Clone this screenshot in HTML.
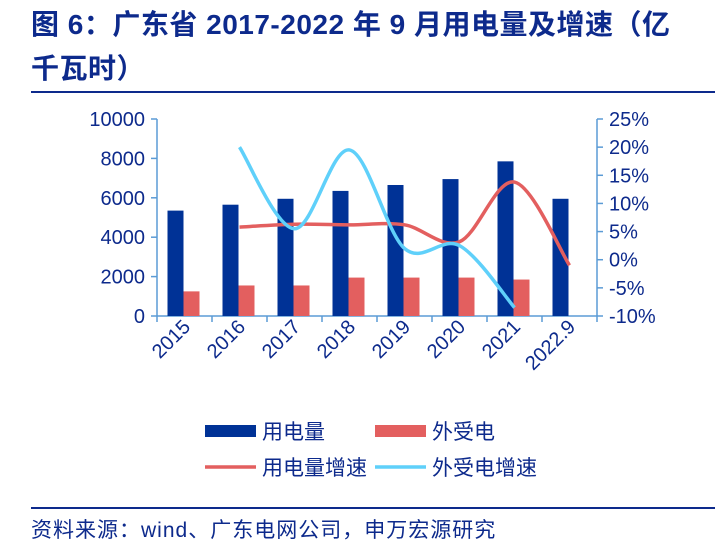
<!DOCTYPE html>
<html><head><meta charset="utf-8"><style>
body{margin:0;width:721px;height:546px;background:#fff;overflow:hidden;font-family:"Liberation Sans","Noto Sans CJK SC",sans-serif}
.t{position:absolute;left:31px;font-weight:bold;font-size:28px;letter-spacing:0.5px;color:#0d2a8c;line-height:44px;font-family:"Liberation Sans","Noto Sans CJK SC",sans-serif;white-space:nowrap}
</style></head><body>
<div class="t" style="top:3px;width:690px">图 6：广东省 2017-2022 年 9 月用电量及增速（亿<br>千瓦时）</div>
<div style="position:absolute;left:31px;top:91px;width:684px;height:2px;background:#0d2a8c"></div>
<svg id="c" width="721" height="546" style="position:absolute;left:0;top:0"></svg>
<div style="position:absolute;left:31px;top:507px;width:684px;height:2px;background:#0d2a8c"></div>
<div style="position:absolute;left:31px;top:514px;font-size:21px;letter-spacing:1px;color:#0d2a8c;white-space:nowrap">资料来源：wind、广东电网公司，申万宏源研究</div>
<script>
const categories=["2015","2016","2017","2018","2019","2020","2021","2022.9"];
const usage=[5350,5650,5950,6350,6650,6950,7850,5950];
const imported=[1250,1550,1550,1950,1950,1950,1850,null];
const usageGrowth=[null,5.8,6.3,6.2,6.2,3.2,13.8,-1.0];
const importGrowth=[null,20,5.5,19.5,2.0,2.5,-8.5,null];
const leftTicks=[0,2000,4000,6000,8000,10000];
const rightTicks=[-10,-5,0,5,10,15,20,25];
const NS="http://www.w3.org/2000/svg",svg=document.getElementById('c');
const X0=157,X1=597,Y0=316,Y1=119,cw=(X1-X0)/categories.length;
const yL=v=>Y0-(v/10000)*(Y0-Y1);
const yR=v=>Y0-((v+10)/35)*(Y0-Y1);
const xc=i=>X0+cw*(i+0.5);
function el(t,a,p){const e=document.createElementNS(NS,t);for(const k in a)e.setAttribute(k,a[k]);(p||svg).appendChild(e);return e;}
const ax='#5b9bd5',tc='#0d2a8c';
let a=el('line',{x1:X0,y1:Y1,x2:X0,y2:Y0,stroke:ax,'stroke-width':1.5});

a=el('line',{x1:X1,y1:Y1,x2:X1,y2:Y0,stroke:ax,'stroke-width':1.5});

a=el('line',{x1:X0,y1:Y0,x2:X1,y2:Y0,stroke:ax,'stroke-width':1.5});

leftTicks.forEach(v=>{const y=yL(v);el('line',{x1:X0-6,y1:y,x2:X0,y2:y,stroke:ax,'stroke-width':1.5});
const t=el('text',{x:X0-12,y:y+7,'text-anchor':'end','font-size':20,fill:tc});t.textContent=v;
});
rightTicks.forEach(v=>{const y=yR(v);el('line',{x1:X1,y1:y,x2:X1+6,y2:y,stroke:ax,'stroke-width':1.5});
const t=el('text',{x:X1+12,y:y+7,'font-size':20,fill:tc});t.textContent=v+'%';
});
for(let i=0;i<=categories.length;i++){const x=X0+cw*i;el('line',{x1:x,y1:Y0,x2:x,y2:Y0+6,stroke:ax,'stroke-width':1.5});}
categories.forEach((c,i)=>{const x=xc(i)+7,y=Y0+12;
const t=el('text',{x:x,y:y,'text-anchor':'end','font-size':20,fill:tc,transform:`rotate(-45 ${x} ${y})`});t.textContent=c;

const b=el('rect',{x:xc(i)-17,y:yL(usage[i]),width:16,height:Y0-yL(usage[i]),fill:'#003296'});

if(imported[i]!=null){const r=el('rect',{x:xc(i)-1,y:yL(imported[i]),width:16,height:Y0-yL(imported[i]),fill:'#e35f5f'});
}});
function spline(arr,f){const p=[];arr.forEach((v,i)=>{if(v!=null)p.push([xc(i),f(v)]);});
let d=`M${p[0][0]},${p[0][1]}`;for(let i=0;i<p.length-1;i++){const p0=p[i-1]||p[i],p1=p[i],p2=p[i+1],p3=p[i+2]||p2;
d+=` C${p1[0]+(p2[0]-p0[0])/6},${p1[1]+(p2[1]-p0[1])/6} ${p2[0]-(p3[0]-p1[0])/6},${p2[1]-(p3[1]-p1[1])/6} ${p2[0]},${p2[1]}`;}return d;}
let l=el('path',{d:spline(usageGrowth,yR),fill:'none',stroke:'#e35f5f','stroke-width':3.5});

l=el('path',{d:spline(importGrowth,yR),fill:'none',stroke:'#5fd0fa','stroke-width':3.5});

function leg(x,y,kind,color,label,name){const g=el('g',{});
if(kind==='r')el('rect',{x:x,y:y-6,width:51,height:12,fill:color},g);else el('line',{x1:x,y1:y,x2:x+51,y2:y,stroke:color,'stroke-width':3.5},g);
const t=el('text',{x:x+57,y:y+8,'font-size':21,fill:tc},g);t.textContent=label;}
leg(205,431,'r','#003296','用电量','legend-usage');
leg(375,431,'r','#e35f5f','外受电','legend-import');
leg(205,467,'l','#e35f5f','用电量增速','legend-usage-growth');
leg(375,467,'l','#5fd0fa','外受电增速','legend-import-growth');
</script>
</body></html>
